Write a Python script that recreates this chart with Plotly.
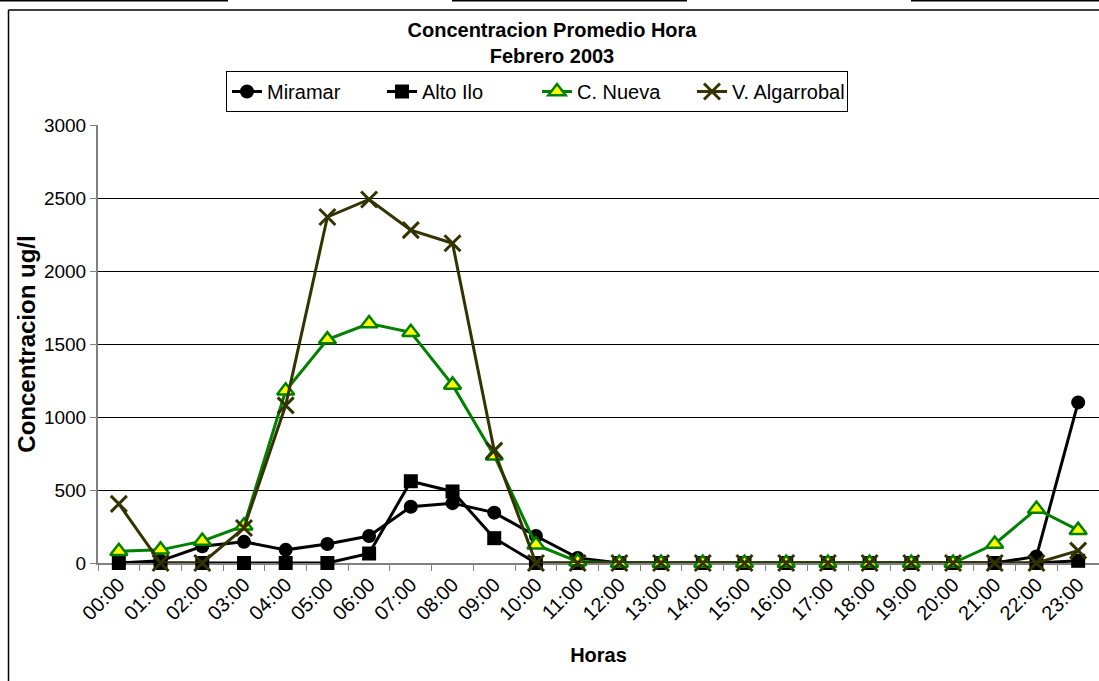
import plotly.graph_objects as go

horas = ["00:00", "01:00", "02:00", "03:00", "04:00", "05:00", "06:00", "07:00",
         "08:00", "09:00", "10:00", "11:00", "12:00", "13:00", "14:00", "15:00",
         "16:00", "17:00", "18:00", "19:00", "20:00", "21:00", "22:00", "23:00"]

miramar = [0, 15, 115, 145, 90, 130, 185, 385, 410, 345, 185, 35,
           0, 0, 0, 0, 0, 0, 0, 0, 0, 0, 45, 1100]
alto_ilo = [0, 0, 0, 0, 0, 0, 65, 560, 490, 170, 0, 0,
            0, 0, 0, 0, 0, 0, 0, 0, 0, 0, 0, 15]
c_nueva = [80, 90, 150, 255, 1180, 1530, 1640, 1580, 1220, 735, 125, 10,
           0, 0, 0, 0, 0, 0, 0, 0, 0, 130, 370, 225]
v_algarrobal = [405, 0, 0, 240, 1080, 2370, 2490, 2280, 2190, 770, 0, 0,
                0, 0, 0, 0, 0, 0, 0, 0, 0, 0, 0, 85]

FONT = "Liberation Sans, Arial, sans-serif"

# plot area in pixels (for decorative frame conversion)
L, R, T, B = 98, 1099, 125, 563


def px_x(p):
    return (p - L) / (R - L)


def px_y(p):
    return (B - p) / (B - T)


fig = go.Figure()
fig.add_trace(go.Scatter(
    x=horas, y=miramar, name="Miramar", mode="lines+markers",
    line=dict(color="black", width=3),
    marker=dict(symbol="circle", size=14, color="black"),
    cliponaxis=False))
fig.add_trace(go.Scatter(
    x=horas, y=alto_ilo, name="Alto Ilo", mode="lines+markers",
    line=dict(color="black", width=3),
    marker=dict(symbol="square", size=14, color="black"),
    cliponaxis=False))
fig.add_trace(go.Scatter(
    x=horas, y=c_nueva, name="C. Nueva", mode="lines+markers",
    line=dict(color="#008000", width=3),
    marker=dict(symbol="triangle-up", size=15, color="#FFFF00",
                line=dict(color="#008000", width=2.5)),
    cliponaxis=False))
fig.add_trace(go.Scatter(
    x=horas, y=v_algarrobal, name="V. Algarrobal", mode="lines+markers",
    line=dict(color="#333300", width=3),
    marker=dict(symbol="x-thin", size=16, color="#333300",
                line=dict(color="#333300", width=3)),
    cliponaxis=False))

shapes = [
    # outer chart frame (left and top edges)
    dict(type="line", xref="paper", yref="paper", x0=px_x(8.5), x1=px_x(8.5),
         y0=px_y(10), y1=px_y(700), line=dict(color="black", width=1.5)),
    dict(type="line", xref="paper", yref="paper", x0=px_x(8.5), x1=px_x(1110),
         y0=px_y(10), y1=px_y(10), line=dict(color="black", width=1.5)),
    # page fragments along the very top
    dict(type="line", xref="paper", yref="paper", x0=px_x(0), x1=px_x(228),
         y0=px_y(0.8), y1=px_y(0.8), line=dict(color="black", width=1.5)),
    dict(type="line", xref="paper", yref="paper", x0=px_x(452), x1=px_x(687),
         y0=px_y(0.8), y1=px_y(0.8), line=dict(color="black", width=1.5)),
    dict(type="line", xref="paper", yref="paper", x0=px_x(911), x1=px_x(1100),
         y0=px_y(0.8), y1=px_y(0.8), line=dict(color="black", width=1.5)),
]

fig.update_layout(
    width=1099, height=681,
    margin=dict(l=L, r=1099 - R, t=T, b=681 - B, autoexpand=False),
    paper_bgcolor="white", plot_bgcolor="white",
    font=dict(family=FONT, color="black", size=19),
    title=dict(text="<b>Concentracion Promedio Hora</b><br><b>Febrero 2003</b>",
               x=552 / 1099, xanchor="center", y=1 - 37 / 681, yanchor="top",
               font=dict(family=FONT, size=20, color="black")),
    legend=dict(orientation="h", x=px_x(537), xanchor="center",
                y=px_y(71), yanchor="top",
                bordercolor="black", borderwidth=1, bgcolor="white",
                font=dict(family=FONT, size=20, color="black"),
                entrywidth=110, traceorder="normal"),
    showlegend=True,
    shapes=shapes,
)

fig.update_xaxes(
    type="category", range=[-0.5, 23.5], automargin=False,
    tickangle=-45, tickson="boundaries",
    ticks="outside", ticklen=6, tickcolor="#808080", tickwidth=1,
    showline=True, linecolor="#808080", linewidth=2,
    showgrid=False, layer="below traces",
    tickfont=dict(family=FONT, size=20, color="black"),
    title=dict(text="<b>Horas</b>", font=dict(family=FONT, size=20, color="black"),
               standoff=25),
)
fig.update_yaxes(
    range=[0, 3000], dtick=500, tickformat="d", automargin=False,
    ticks="outside", ticklen=6, tickcolor="#808080", tickwidth=1,
    showline=True, linecolor="#808080", linewidth=2,
    showgrid=True, gridcolor="black", gridwidth=1,
    zeroline=False, layer="below traces",
    tickfont=dict(family=FONT, size=19, color="black"),
    title=dict(text="<b>Concentracion ug/l</b>",
               font=dict(family=FONT, size=24, color="black"), standoff=2),
)

fig.write_html(
    "out.html",
    config={"displayModeBar": False},
    post_script="document.body.style.margin='0';document.body.style.overflow='hidden';",
)
